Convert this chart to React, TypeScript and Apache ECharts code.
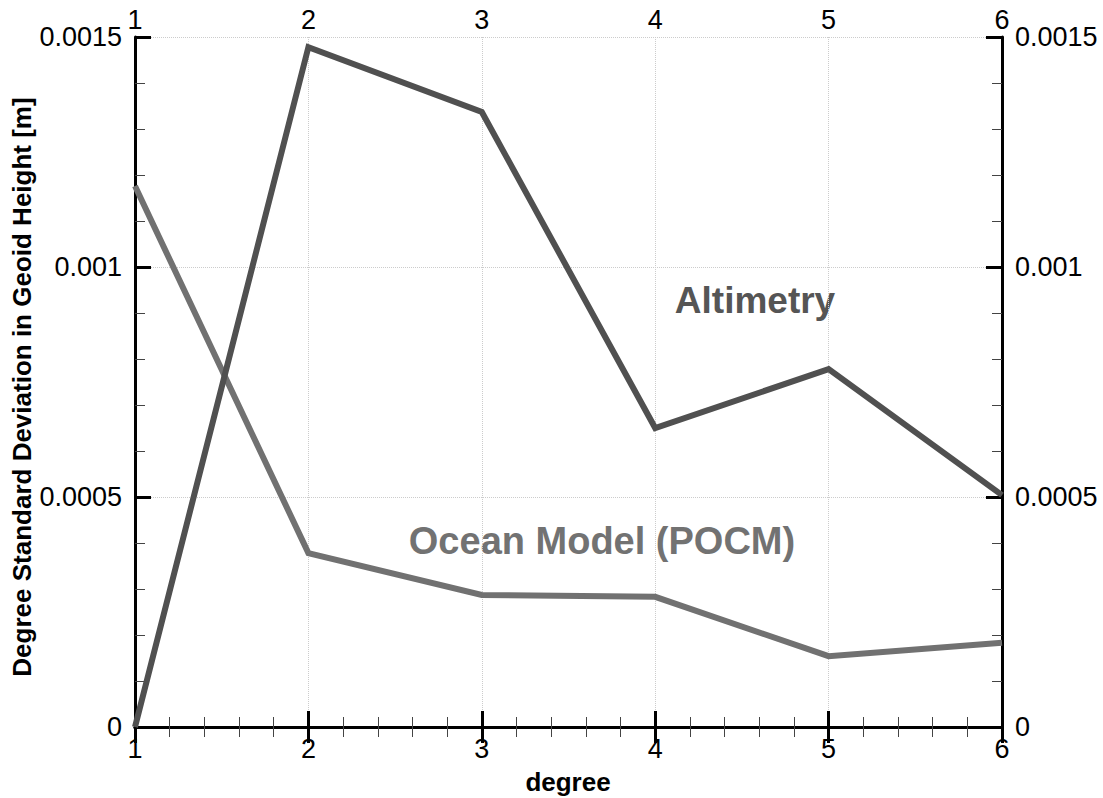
import React, { useEffect, useRef } from "react";
import * as echarts from "echarts";

const degrees = [1, 2, 3, 4, 5, 6];
const altimetry = [0.0, 0.001478, 0.001337, 0.00065, 0.000778, 0.000504];
const oceanModel = [0.001176, 0.000378, 0.000287, 0.000283, 0.000154, 0.000183];
const xTicks = [1, 2, 3, 4, 5, 6];
const yTicks = [0, 0.0005, 0.001, 0.0015];

const FONT = "'Liberation Sans', Arial, Helvetica, sans-serif";

const fmtY = (v: number) => String(parseFloat(Number(v).toFixed(4)));

export default function App() {
  const ref = useRef<HTMLDivElement>(null);
  useEffect(() => {
    if (!ref.current) return;
    const chart = echarts.init(ref.current, null, { renderer: "svg" });
    const axisLine = { show: true, lineStyle: { color: "#000", width: 3 } };
    const axisTick = { show: true, inside: true, length: 16, lineStyle: { color: "#000", width: 3 } };
    const minorTick = { show: true, splitNumber: 5, length: 10, lineStyle: { color: "#444", width: 1 } };
    const labelBase = { fontFamily: FONT, fontSize: 27, color: "#000" };
    const xBase = {
      type: "value" as const,
      min: xTicks[0],
      max: xTicks[xTicks.length - 1],
      interval: 1,
      axisLine,
      axisTick,
      minorTick,
    };
    const yBase = {
      type: "value" as const,
      min: yTicks[0],
      max: yTicks[yTicks.length - 1],
      interval: 0.0005,
      axisLine,
      axisTick,
      minorTick,
    };
    chart.setOption({
      animation: false,
      backgroundColor: "#fff",
      grid: { left: 135, right: 101, top: 37, bottom: 71, containLabel: false, outerBoundsMode: "none" },
      xAxis: [
        {
          ...xBase,
          position: "bottom",
          axisLabel: { ...labelBase, margin: 8 },
          splitLine: { show: true, lineStyle: { type: "dotted", color: "#cccccc", width: 1 } },
        },
        {
          ...xBase,
          position: "top",
          axisLabel: { ...labelBase, margin: 4 },
          splitLine: { show: false },
        },
      ],
      yAxis: [
        {
          ...yBase,
          position: "left",
          axisLabel: { ...labelBase, margin: 13, formatter: fmtY },
          splitLine: { show: true, lineStyle: { type: "dotted", color: "#cccccc", width: 1 } },
        },
        {
          ...yBase,
          position: "right",
          axisLabel: { ...labelBase, margin: 13, formatter: fmtY },
          splitLine: { show: false },
        },
      ],
      series: [
        {
          name: "Altimetry",
          type: "line",
          data: degrees.map((d, i) => [d, altimetry[i]]),
          showSymbol: false,
          symbol: "none",
          lineStyle: { color: "#505050", width: 6, join: "miter" },
          z: 3,
        },
        {
          name: "Ocean Model (POCM)",
          type: "line",
          data: degrees.map((d, i) => [d, oceanModel[i]]),
          showSymbol: false,
          symbol: "none",
          lineStyle: { color: "#717171", width: 6, join: "miter" },
          z: 2,
        },
      ],
      graphic: [
        {
          type: "text",
          x: 22,
          y: 387,
          rotation: Math.PI / 2,
          style: {
            text: "Degree Standard Deviation in Geoid Height [m]",
            font: `bold 26px ${FONT}`,
            fill: "#000",
            align: "center",
            verticalAlign: "middle",
          },
        },
        {
          type: "text",
          x: 568,
          y: 782,
          style: {
            text: "degree",
            font: `bold 26px ${FONT}`,
            fill: "#000",
            align: "center",
            verticalAlign: "middle",
          },
        },
        {
          type: "text",
          x: 755,
          y: 300,
          style: {
            text: "Altimetry",
            font: `bold 37px ${FONT}`,
            fill: "#555555",
            align: "center",
            verticalAlign: "middle",
          },
        },
        {
          type: "text",
          x: 602,
          y: 541,
          style: {
            text: "Ocean Model (POCM)",
            font: `bold 38px ${FONT}`,
            fill: "#727272",
            align: "center",
            verticalAlign: "middle",
          },
        },
      ],
    });
    return () => chart.dispose();
  }, []);
  return (
    <div
      ref={ref}
      style={{ position: "absolute", left: 0, top: 0, width: 1103, height: 798 }}
    />
  );
}
